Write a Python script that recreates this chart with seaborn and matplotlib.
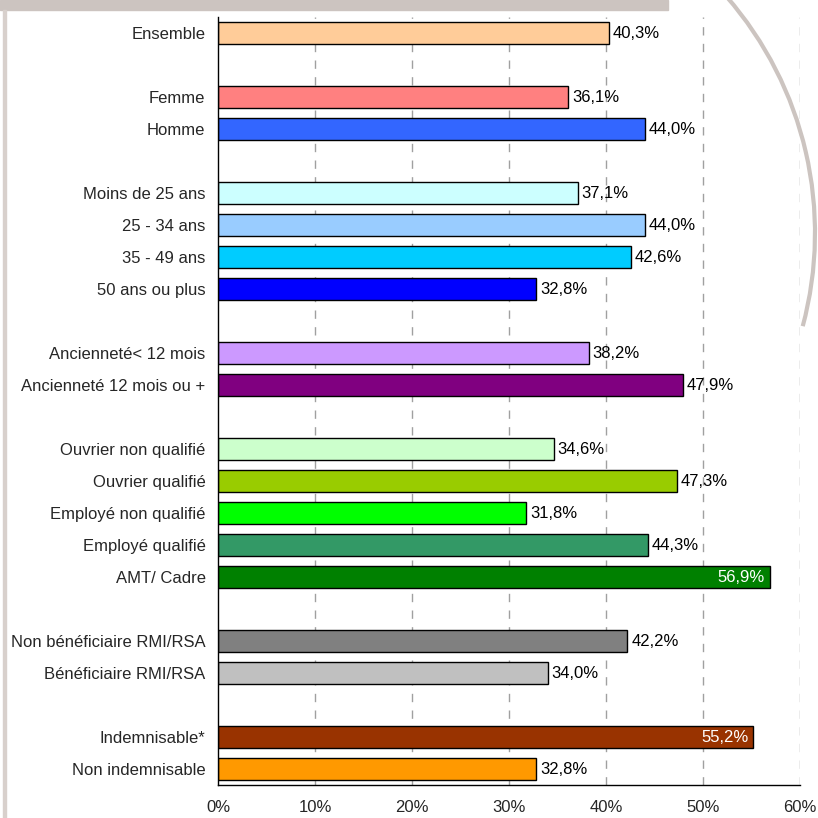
import numpy as np
import pandas as pd
import matplotlib
matplotlib.use("Agg")
from matplotlib import pyplot as plt
from matplotlib.patches import Rectangle, Arc
import seaborn as sns

# ################################################
# Data
labels = ["Ensemble",
          "Femme", "Homme",
          "Moins de 25 ans", "25 - 34 ans", "35 - 49 ans", "50 ans ou plus",
          "Ancienneté< 12 mois", "Ancienneté 12 mois ou +",
          "Ouvrier non qualifié", "Ouvrier qualifié", "Employé non qualifié",
          "Employé qualifié", "AMT/ Cadre",
          "Non bénéficiaire RMI/RSA", "Bénéficiaire RMI/RSA",
          "Indemnisable*", "Non indemnisable"]
values = [40.3,
          36.1, 44.0,
          37.1, 44.0, 42.6, 32.8,
          38.2, 47.9,
          34.6, 47.3, 31.8, 44.3, 56.9,
          42.2, 34.0,
          55.2, 32.8]
group_sizes = [1, 2, 4, 2, 5, 2, 2]
colors = ["#FFCC99",
          "#FF8080", "#3366FF",
          "#CCFFFF", "#99CCFF", "#00CCFF", "#0000FF",
          "#CC99FF", "#800080",
          "#CCFFCC", "#99CC00", "#00FF00", "#339966", "#008000",
          "#808080", "#C0C0C0",
          "#993300", "#FF9900"]
inside = ["AMT/ Cadre", "Indemnisable*"]

# positions with an empty slot between groups
pos = []
p = 0
for g in group_sizes:
    for i in range(g):
        pos.append(p)
        p += 1
    p += 1
n_slots = p - 1

data = pd.DataFrame({"label": labels, "value": values, "pos": pos})

# ################################################
# Plot
sns.set_style("white")
plt.rcParams['font.family'] = ['Liberation Sans', 'DejaVu Sans']
fs = 12

fig = plt.figure(figsize=(8.18, 8.18), dpi=100)
ax = fig.add_axes([218/818, 1 - 785/818, (800 - 218)/818, (785 - 17)/818])

sns.barplot(data=data, x="value", y="pos", hue="label", palette=dict(zip(labels, colors)),
            orient="h", native_scale=True, width=0.66, edgecolor="black", linewidth=1,
            legend=False, ax=ax, saturation=1)

ax.set_xlim(0, 60)
ax.set_ylim(n_slots - 0.5, -0.5)
ax.set_xticks(range(0, 61, 10))
ax.set_xticklabels([f"{t}%" for t in range(0, 61, 10)], fontsize=fs)
ax.set_yticks(pos)
ax.set_yticklabels(labels, fontsize=fs)
ax.set_yticks(np.arange(-0.5, n_slots, 1), minor=True)
ax.tick_params(axis="y", which="major", length=0, pad=9)
ax.tick_params(axis="y", which="minor", length=4, width=1, color="black", direction="out")
ax.tick_params(axis="x", length=4, width=1, color="black", direction="out", pad=7)
ax.set_xlabel("")
ax.set_ylabel("")

for x in range(10, 61, 10):
    ax.axvline(x, color="#A0A0A0", linestyle=(0, (6, 6)), linewidth=1, zorder=0)

for s in ["top", "right"]:
    ax.spines[s].set_visible(False)
for s in ["left", "bottom"]:
    ax.spines[s].set_color("black")
    ax.spines[s].set_linewidth(1)

for lab, v, y in zip(labels, values, pos):
    txt = f"{v:.1f}%".replace(".", ",")
    if lab in inside:
        ax.text(v - 0.5, y, txt, ha="right", va="center", color="white", fontsize=fs)
    else:
        ax.text(v + 0.4, y, txt, ha="left", va="center", color="black", fontsize=fs)

# slide decoration
fig.patches.append(Rectangle((0, 1 - 10/818), 668/818, 10/818, transform=fig.transFigure,
                             color="#CCC4C0", zorder=0))
fig.patches.append(Rectangle((3/818, 0), 3/818, 1 - 10/818, transform=fig.transFigure,
                             color="#D8D0CC", zorder=0))
fig.patches.append(Arc((455/818, 1 - 233/818), 720/818, 720/818, theta1=-15, theta2=41,
                       transform=fig.transFigure, color="#CCC4C0", linewidth=3))

fig.savefig("out.png", dpi=100)
